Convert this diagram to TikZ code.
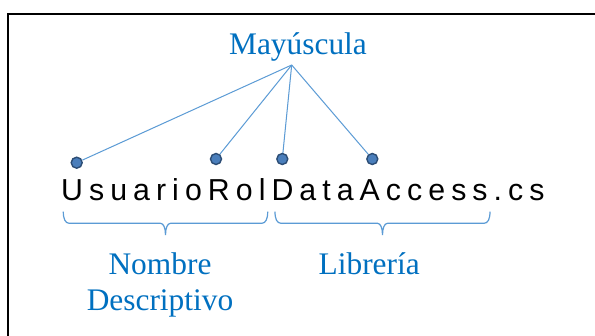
\documentclass[tikz,border=0pt]{standalone}
\usepackage{fontspec}
\setmainfont{Liberation Serif}
\newfontfamily\arialfam{Liberation Sans}
\definecolor{txtblue}{HTML}{0070C0}
\definecolor{linblue}{HTML}{5B9BD5}
\definecolor{dotfill}{HTML}{4A7EBB}
\definecolor{dotedge}{HTML}{2C4D75}
\newcommand\ks{\kern6.05pt}
\newcommand\labelbrace[2]{%
  \draw[bracestyle] (#1,211.7) .. controls (#1,219) and (#1+2,223.3) .. (#1+6,223.3)
    -- ({(#1+#2)/2-5},223.3) .. controls ({(#1+#2)/2-2},223.3) and ({(#1+#2)/2},228) .. ({(#1+#2)/2},235)
    .. controls ({(#1+#2)/2},228) and ({(#1+#2)/2+2},223.3) .. ({(#1+#2)/2+5},223.3)
    -- (#2-6,223.3) .. controls (#2-2,223.3) and (#2,219) .. (#2,211.7);}
\tikzset{
  serif label/.style={text=txtblue, inner sep=0pt, font=\fontsize{31.4}{36.7}\selectfont},
  dot/.style={circle, fill=dotfill, draw=dotedge, line width=1.4pt, minimum size=11pt, inner sep=0pt},
  ray/.style={draw=linblue, line width=1pt},
  bracestyle/.style={draw=linblue, line width=1.2pt},
  frame/.style={draw=black, line width=1.6pt}
}
\begin{document}
\begin{tikzpicture}[x=1pt, y=-1pt]
\useasboundingbox (0,0) rectangle (595,336);
\fill[white] (0,0) rectangle (595,336);
\draw[frame] (8,336) -- (8,14) -- (595,14);

\node[serif label, anchor=base] (may) at (298,54.3) {Mayúscula};
\coordinate (apex) at (291.7,65);

\node[dot] (d1) at (76.7,162.7) {};
\node[dot] (d2) at (216,159) {};
\node[dot] (d3) at (282.3,159) {};
\node[dot] (d4) at (372.3,159) {};

\draw[ray] (apex) -- (d1);
\draw[ray] (apex) -- (d2);
\draw[ray] (apex) -- (d3);
\draw[ray] (apex) -- (d4);

\node[inner sep=0pt, anchor=base west, font=\arialfam\fontsize{30.3}{36}\selectfont] (name) at (61,201)
  {U\ks s\ks u\ks a\ks r\ks i\ks o\ks R\ks o\ks l\ks D\ks a\ks t\ks a\ks A\ks c\ks c\ks e\ks s\ks s\ks .\ks c\ks s};

\labelbrace{63.3}{267.7}
\labelbrace{275}{490}

\node[serif label, align=center, anchor=base] (nd) at (160,311) {Nombre\\Descriptivo};
\node[serif label, anchor=base] (lib) at (369.2,274.3) {Librería};
\end{tikzpicture}
\end{document}
